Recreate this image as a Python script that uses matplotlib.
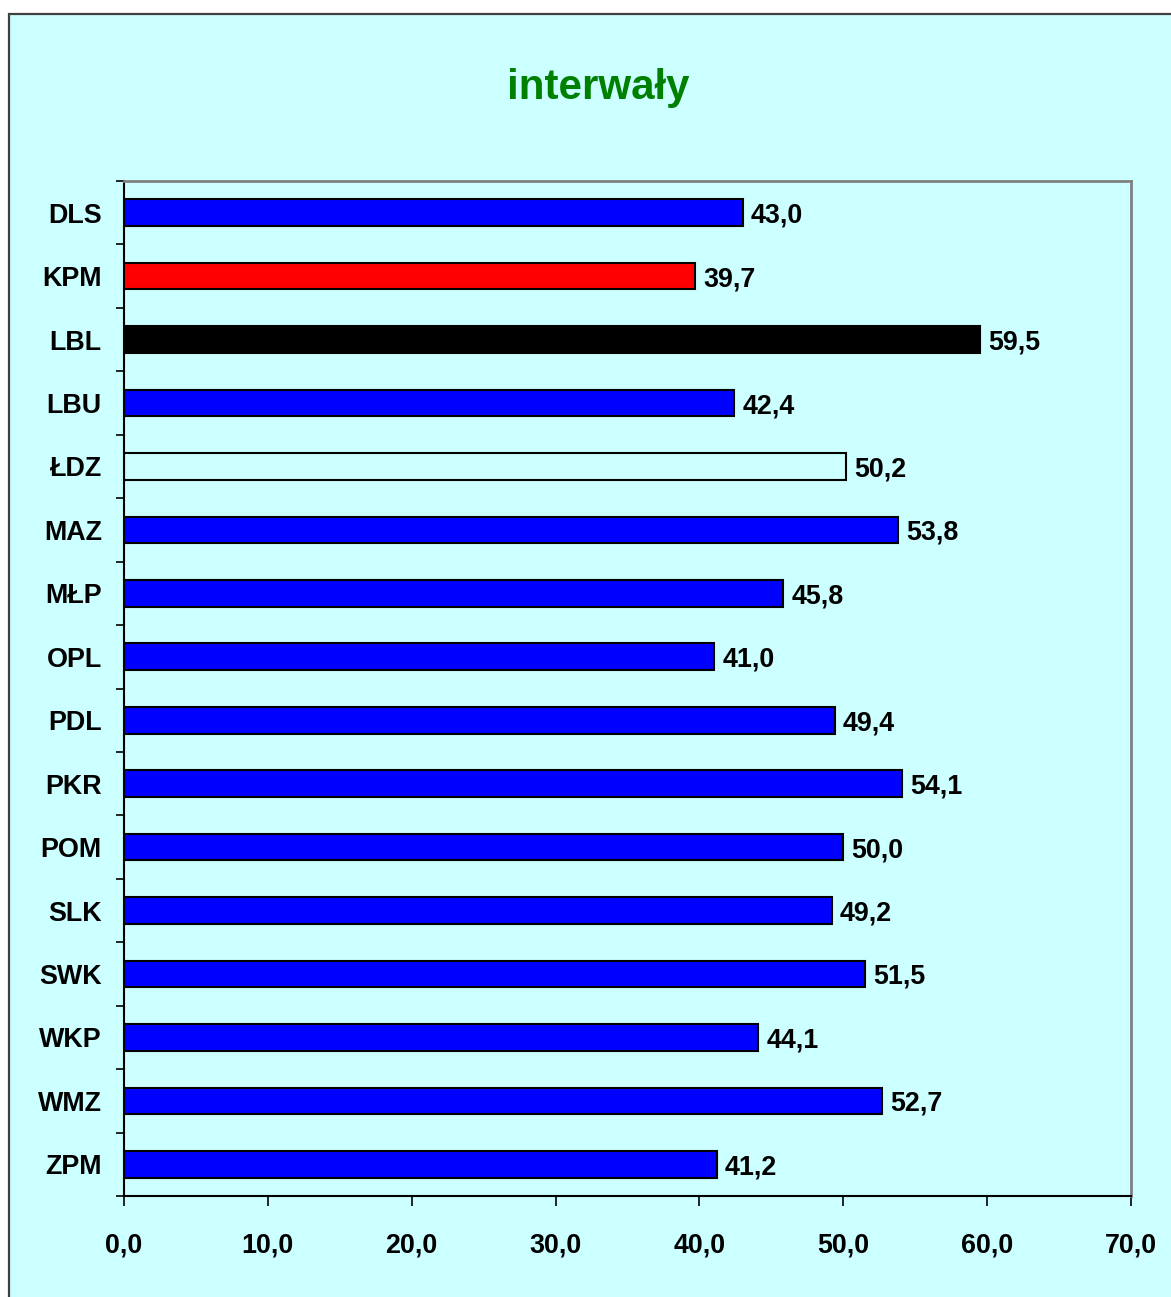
import matplotlib
matplotlib.use("Agg")
import matplotlib.pyplot as plt
from matplotlib.patches import Rectangle
from matplotlib import font_manager
import numpy as np

categories = ["DLS", "KPM", "LBL", "LBU", "ŁDZ", "MAZ", "MŁP", "OPL",
              "PDL", "PKR", "POM", "SLK", "SWK", "WKP", "WMZ", "ZPM"]
values = [43.0, 39.7, 59.5, 42.4, 50.2, 53.8, 45.8, 41.0,
          49.4, 54.1, 50.0, 49.2, 51.5, 44.1, 52.7, 41.2]
bar_colors = ["#0000FF", "#FF0000", "#000000", "#0000FF", "none", "#0000FF",
              "#0000FF", "#0000FF", "#0000FF", "#0000FF", "#0000FF", "#0000FF",
              "#0000FF", "#0000FF", "#0000FF", "#0000FF"]
x_ticks = [0, 10, 20, 30, 40, 50, 60, 70]
x_tick_labels = ["0,0", "10,0", "20,0", "30,0", "40,0", "50,0", "60,0", "70,0"]
title = "interwały"

BG = "#CCFFFF"
names = {f.name for f in font_manager.fontManager.ttflist}
narrow = "Liberation Sans Narrow" in names
FONT = (["Liberation Sans Narrow"] if narrow else []) + ["Liberation Sans", "DejaVu Sans"]
scale = 1.0 if narrow else 0.92
plt.rcParams["font.family"] = FONT
plt.rcParams["font.weight"] = "bold"

W, H = 1171, 1297
fig = plt.figure(figsize=(W / 100, H / 100), dpi=100)
fig.patch.set_facecolor("white")

# outer chart-area frame
fig.patches.append(Rectangle((9 / W, -0.01), 1.0, 1.01 - 14 / H, transform=fig.transFigure,
                             facecolor=BG, edgecolor="#404040", linewidth=1.6, zorder=-10))

ax = fig.add_axes([124 / W, 1 - 1196 / H, (1131 - 124) / W, (1196 - 181) / H])
ax.set_zorder(2)
ax.set_facecolor(BG)

n = len(categories)
pos = np.arange(n)
ax.barh(pos, values, height=0.42, color=bar_colors, edgecolor="black",
        linewidth=1.5, zorder=3)

for p, v in zip(pos, values):
    ax.annotate(f"{v:.1f}".replace(".", ","), xy=(v, p), xytext=(6, 0),
                textcoords="offset points", ha="left", va="center_baseline",
                fontsize=21 * scale, fontweight="bold", color="black")

ax.set_xlim(0, 70)
ax.set_ylim(n - 0.5, -0.5)

ax.set_xticks(x_ticks)
ax.set_xticklabels(x_tick_labels, fontsize=21 * scale, fontweight="bold")
ax.tick_params(axis="x", length=7, width=1.2, pad=19, direction="out", colors="black")

ax.set_yticks(np.arange(-0.5, n, 1.0))
ax.set_yticklabels([])
ax.tick_params(axis="y", which="major", length=6, width=1.2, direction="out")
ax.set_yticks(pos, minor=True)
ax.set_yticklabels(categories, minor=True, fontsize=21 * scale, fontweight="bold")
ax.tick_params(axis="y", which="minor", length=0, pad=16)
for lbl in ax.get_yticklabels(minor=True):
    lbl.set_verticalalignment("center_baseline")

for s in ["left", "bottom"]:
    ax.spines[s].set_color("black")
    ax.spines[s].set_linewidth(1.5)
for s in ["top", "right"]:
    ax.spines[s].set_color("#808080")
    ax.spines[s].set_linewidth(2)

fig.text(598 / W, 1 - 84 / H, title, ha="center", va="center_baseline", fontsize=33 * scale,
         fontweight="bold", color="#008000")

fig.savefig("out.png", dpi=100, facecolor=fig.get_facecolor())
